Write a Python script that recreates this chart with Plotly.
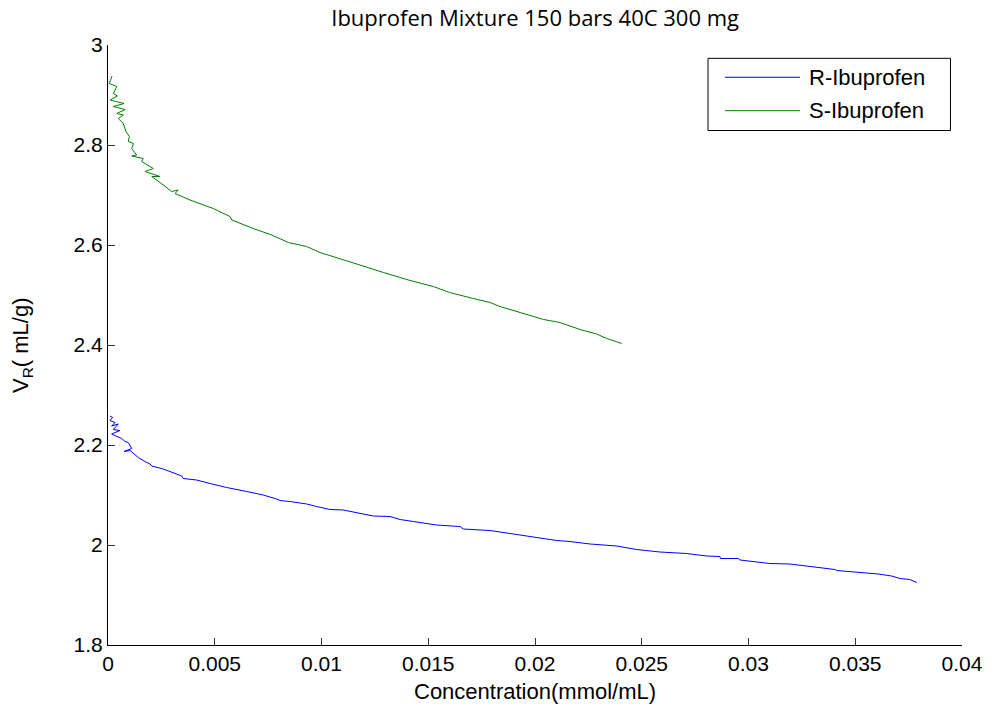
import plotly.graph_objects as go

# Concentration (mmol/mL) and retention volume V_R (mL/g) for each enantiomer
r_conc = [0.00009, 0.00022, 0.00009, 0.00033, 0.00017, 0.00048, 0.00025, 0.00056,
          0.00017, 0.00064, 0.00080, 0.00095, 0.00111, 0.00075, 0.00103, 0.00142,
          0.00173, 0.00197, 0.00205, 0.00251, 0.00290, 0.00345, 0.00352, 0.00415,
          0.00478, 0.00556, 0.00650, 0.00727, 0.00790, 0.00806, 0.00852, 0.00931,
          0.00977, 0.01040, 0.01102, 0.01180, 0.01243, 0.01321, 0.01368, 0.01430,
          0.01539, 0.01649, 0.01664, 0.01789, 0.01898, 0.01992, 0.02102, 0.02164,
          0.02258, 0.02383, 0.02476, 0.02585, 0.02710, 0.02804, 0.02866, 0.02869,
          0.02952, 0.02960, 0.03100, 0.03194, 0.03288, 0.03335, 0.03405, 0.03413,
          0.03553, 0.03608, 0.03670, 0.03710, 0.03756, 0.03772, 0.03788]
r_vr = [2.258, 2.255, 2.249, 2.245, 2.238, 2.242, 2.231, 2.229,
        2.222, 2.213, 2.207, 2.205, 2.193, 2.187, 2.189, 2.175,
        2.167, 2.162, 2.158, 2.153, 2.147, 2.138, 2.133, 2.130,
        2.123, 2.115, 2.107, 2.100, 2.092, 2.089, 2.087, 2.082,
        2.077, 2.071, 2.070, 2.063, 2.058, 2.057, 2.051, 2.047,
        2.040, 2.037, 2.032, 2.029, 2.022, 2.015, 2.009, 2.007,
        2.002, 1.998, 1.991, 1.986, 1.983, 1.978, 1.977, 1.973,
        1.973, 1.970, 1.963, 1.962, 1.957, 1.954, 1.951, 1.949,
        1.945, 1.942, 1.938, 1.933, 1.931, 1.928, 1.925]

s_conc = [0.00019, 0.00006, 0.00041, 0.00025, 0.00044, 0.00010, 0.00075, 0.00025,
          0.00080, 0.00041, 0.00072, 0.00048, 0.00072, 0.00084, 0.00100, 0.00095,
          0.00119, 0.00111, 0.00134, 0.00111, 0.00165, 0.00158, 0.00212, 0.00173,
          0.00244, 0.00205, 0.00259, 0.00298, 0.00329, 0.00314, 0.00384, 0.00431,
          0.00493, 0.00571, 0.00580, 0.00680, 0.00767, 0.00845, 0.00930, 0.00993,
          0.01055, 0.01180, 0.01290, 0.01415, 0.01524, 0.01600, 0.01711, 0.01789,
          0.01836, 0.01900, 0.01992, 0.02040, 0.02117, 0.02211, 0.02289, 0.02336,
          0.02406]
s_vr = [2.938, 2.923, 2.917, 2.903, 2.898, 2.890, 2.883, 2.877,
        2.871, 2.863, 2.860, 2.853, 2.843, 2.827, 2.817, 2.807,
        2.803, 2.793, 2.780, 2.778, 2.773, 2.767, 2.753, 2.747,
        2.737, 2.737, 2.720, 2.707, 2.710, 2.703, 2.690, 2.683,
        2.673, 2.657, 2.650, 2.633, 2.620, 2.605, 2.597, 2.585,
        2.577, 2.560, 2.545, 2.529, 2.517, 2.505, 2.493, 2.485,
        2.477, 2.469, 2.457, 2.451, 2.445, 2.431, 2.422, 2.413,
        2.403]

x_ticks = [0, 0.005, 0.01, 0.015, 0.02, 0.025, 0.03, 0.035, 0.04]
x_labels = ["0", "0.005", "0.01", "0.015", "0.02", "0.025", "0.03", "0.035", "0.04"]
y_ticks = [1.8, 2.0, 2.2, 2.4, 2.6, 2.8, 3.0]
y_labels = ["1.8", "2", "2.2", "2.4", "2.6", "2.8", "3"]

series = [("R-Ibuprofen", r_conc, r_vr, "#0000ff"),
          ("S-Ibuprofen", s_conc, s_vr, "#008000")]

AX_FONT = dict(family="Liberation Sans, Arial, sans-serif", size=21, color="#000000")
LABEL_FONT = dict(family="Liberation Sans, Arial, sans-serif", size=22, color="#000000")

fig = go.Figure()
for name, xs, ys, col in series:
    fig.add_trace(go.Scatter(x=xs, y=ys, mode="lines", name=name,
                             line=dict(color=col, width=1), showlegend=False))

axis_common = dict(showgrid=False, zeroline=False, showline=True, linecolor="#000000",
                   linewidth=1, ticks="inside", ticklen=7, tickcolor="#333333",
                   tickwidth=1, tickfont=AX_FONT, mirror=False)
fig.update_xaxes(range=[0, 0.04], tickvals=x_ticks, ticktext=x_labels, **axis_common)
fig.update_yaxes(range=[1.8, 3.0], tickvals=y_ticks, ticktext=y_labels, **axis_common)

# Boxed legend drawn in paper coordinates
fig.add_shape(type="rect", xref="paper", yref="paper", x0=0.7026, x1=0.9865,
              y0=0.8575, y1=0.9778, line=dict(color="#000000", width=1),
              fillcolor="#ffffff", layer="above")
legend_y = [0.9462, 0.8905]
for (name, _, _, col), ly in zip(series, legend_y):
    fig.add_shape(type="line", xref="paper", yref="paper", x0=0.7225, x1=0.8103,
                  y0=ly, y1=ly, line=dict(color=col, width=1), layer="above")
    fig.add_annotation(xref="paper", yref="paper", x=0.818, y=ly, text=name,
                       showarrow=False, xanchor="left", yanchor="middle", font=LABEL_FONT)

# Axis titles
fig.add_annotation(xref="paper", yref="paper", x=0.5, y=-0.078,
                   text="Concentration(mmol/mL)", showarrow=False,
                   xanchor="center", yanchor="middle", font=LABEL_FONT)
fig.add_annotation(xref="paper", yref="paper", x=(22 - 108) / 854, y=0.5,
                   text="V<sub>R</sub>( mL/g)", showarrow=False, textangle=-90,
                   xanchor="center", yanchor="middle", font=LABEL_FONT)

fig.update_layout(
    width=996, height=706,
    margin=dict(l=108, r=34, t=45, b=61),
    paper_bgcolor="#ffffff", plot_bgcolor="#ffffff",
    title=dict(text="Ibuprofen Mixture 150 bars 40C 300 mg", x=0.5373, xanchor="center",
               y=1 - 18 / 706, yanchor="middle",
               font=dict(family="Open Sans, Noto Sans, sans-serif", size=22, color="#000000")),
)

fig.write_html("out.html")
